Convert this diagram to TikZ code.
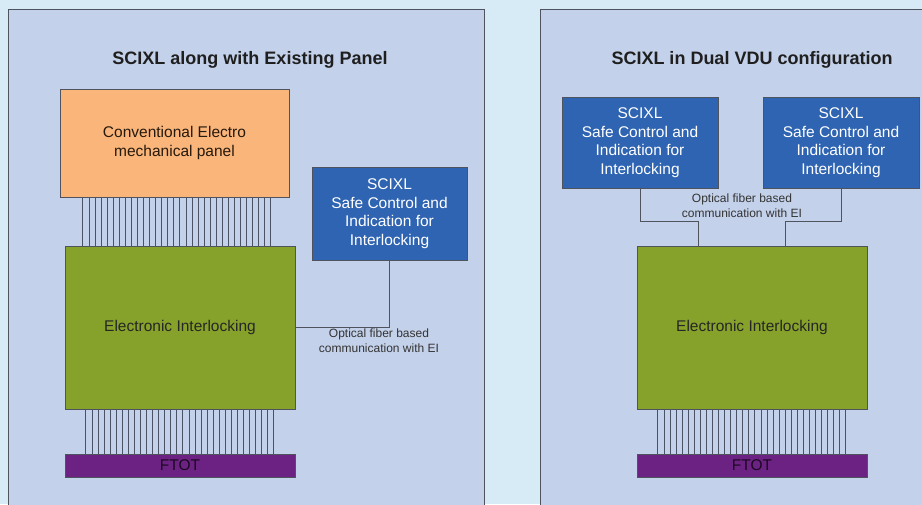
\documentclass[tikz,border=0pt]{standalone}
\usepackage{fontspec}
\setmainfont{Liberation Sans}
\usepackage{tikz}
\usetikzlibrary{positioning,calc}
\definecolor{bgout}{HTML}{D7EBF7}
\definecolor{panel}{HTML}{C3D1EA}
\definecolor{frame}{HTML}{4E535E}
\definecolor{orng}{HTML}{F9B57A}
\definecolor{olive}{HTML}{87A22A}
\definecolor{sblue}{HTML}{2F64B2}
\definecolor{purp}{HTML}{6C2283}
\definecolor{wirec}{HTML}{4A5263}

\begin{document}
\begin{tikzpicture}[x=1pt,y=-1pt,
  panelbox/.style={fill=panel,draw=frame,line width=1pt},
  ttl/.style={font=\fontsize{18}{21}\selectfont\bfseries,text=black!88},
  box/.style={draw=frame,line width=0.5pt,inner sep=0pt,align=center,font=\fontsize{15.5}{18.5}\selectfont},
  wire/.style={draw=wirec,line width=0.6pt},
  link/.style={draw=frame,line width=0.7pt},
  lbl/.style={align=center,font=\fontsize{12}{14.5}\selectfont,text=black!80}]
  \clip (0,0) rectangle (922,504);
  \fill[bgout] (0,0) rectangle (922,504);
  \draw[panelbox] (8,9) rectangle (484,520);
  \draw[panelbox] (540,9) rectangle (940,520);
  % left panel
  \node[ttl] (tl) at (250,60) {SCIXL along with Existing Panel};
  \node[box,fill=orng,text=black!80!brown,minimum width=229pt,minimum height=108pt] (cemp) at (174.5,143) {Conventional Electro\\mechanical panel};
  \node[box,fill=olive,text=black!85,minimum width=230pt,minimum height=163pt] (eil) at (180,327.5) {Electronic Interlocking};
  \node[box,fill=sblue,text=white,minimum width=155pt,minimum height=93pt] (sci) at (389.5,213.5) {SCIXL\\Safe Control and\\Indication for\\Interlocking};
  \node[box,fill=purp,text=black!75!purp,minimum width=230pt,minimum height=23pt] (ftl) at (180,465.5) {FTOT};
  \foreach \i [evaluate=\i as \dx using 23+\i*6.065] in {0,...,31}{
    \path ([xshift=\dx pt]cemp.south west) coordinate (w);
    \draw[wire] (w) -- (w |- eil.north);
  }
  \foreach \i [evaluate=\i as \dx using 21+\i*6.065] in {0,...,31}{
    \path ([xshift=\dx pt]eil.south west) coordinate (w);
    \draw[wire] (w) -- (w |- ftl.north);
  }
  \draw[link] (eil.east) -| (sci.south);
  \node[lbl] (optl) at (379,340.5) {Optical fiber based\\communication with EI};
  % right panel
  \node[ttl] (tr) at (752,60) {SCIXL in Dual VDU configuration};
  \node[box,fill=sblue,text=white,minimum width=156pt,minimum height=91pt] (scl) at (640,142.5) {SCIXL\\Safe Control and\\Indication for\\Interlocking};
  \node[box,fill=sblue,text=white,minimum width=156pt,minimum height=91pt] (scr) at (841,142.5) {SCIXL\\Safe Control and\\Indication for\\Interlocking};
  \node[box,fill=olive,text=black!85,minimum width=230pt,minimum height=163pt] (eir) at (752,327.5) {Electronic Interlocking};
  \node[box,fill=purp,text=black!75!purp,minimum width=230pt,minimum height=23pt] (ftr) at (752,465.5) {FTOT};
  \foreach \i [evaluate=\i as \dx using 21+\i*6.065] in {0,...,31}{
    \path ([xshift=\dx pt]eir.south west) coordinate (w);
    \draw[wire] (w) -- (w |- ftr.north);
  }
  \coordinate (jl) at (698,221);
  \coordinate (jr) at (785,221);
  \draw[link] (scl.south) |- (jl) -- (jl |- eir.north);
  \draw[link] (scr.south) |- (jr) -- (jr |- eir.north);
  \node[lbl] (optr) at (742,205.5) {Optical fiber based\\communication with EI};
\end{tikzpicture}
\end{document}
